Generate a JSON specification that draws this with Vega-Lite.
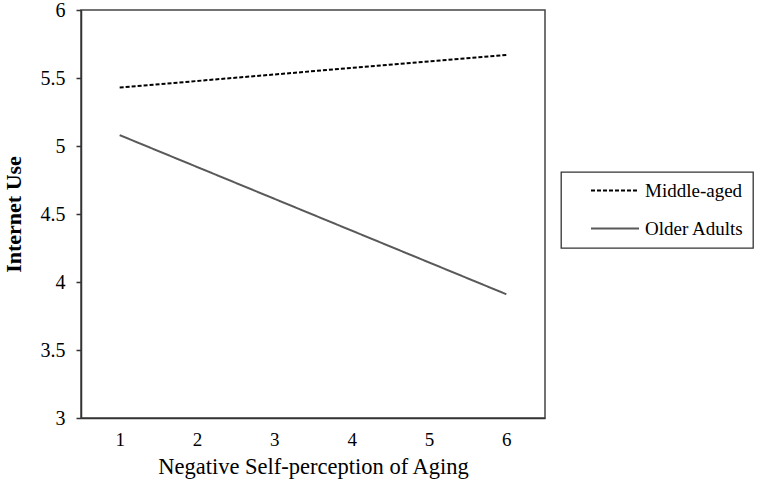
{
  "$schema": "https://vega.github.io/schema/vega-lite/v6.json",
  "autosize": "none",
  "padding": {"left": 81, "top": 10, "right": 227, "bottom": 66},
  "width": 464,
  "height": 408,
  "background": "white",
  "config": {
    "font": "Times New Roman, Liberation Serif, serif",
    "view": {"stroke": "#444", "strokeWidth": 1.5}
  },
  "data": {
    "values": [
      {"x": 1, "y": 5.43, "group": "Middle-aged"},
      {"x": 6, "y": 5.67, "group": "Middle-aged"},
      {"x": 1, "y": 5.08, "group": "Older Adults"},
      {"x": 6, "y": 3.91, "group": "Older Adults"}
    ]
  },
  "mark": {"type": "line", "strokeWidth": 2},
  "encoding": {
    "x": {
      "field": "x", "type": "quantitative",
      "scale": {"domain": [0.5, 6.5], "nice": false, "zero": false},
      "axis": {
        "title": "Negative Self-perception of Aging",
        "values": [1, 2, 3, 4, 5, 6], "format": "~g",
        "grid": false, "ticks": false, "domainColor": "#333", "domainWidth": 1.5,
        "labelFontSize": 19, "labelColor": "black", "labelPadding": 12,
        "titleFontSize": 22.5, "titleFontWeight": "normal", "titleColor": "black", "titlePadding": 6
      }
    },
    "y": {
      "field": "y", "type": "quantitative",
      "scale": {"domain": [3, 6], "nice": false, "zero": false},
      "axis": {
        "title": "Internet Use",
        "values": [3, 3.5, 4, 4.5, 5, 5.5, 6], "format": "~g",
        "grid": false, "tickSize": 5, "tickColor": "#333", "tickWidth": 1.5,
        "domainColor": "#333", "domainWidth": 1.5,
        "labelFontSize": 20, "labelColor": "black", "labelPadding": 11,
        "titleFontSize": 22, "titleFontWeight": "bold", "titleColor": "black", "titlePadding": 15
      }
    },
    "color": {
      "field": "group", "type": "nominal",
      "scale": {"domain": ["Middle-aged", "Older Adults"], "range": ["#000000", "#595959"]},
      "legend": {
        "title": null, "orient": "none", "legendX": 480, "legendY": 162,
        "symbolType": "stroke", "symbolSize": 2304, "symbolStrokeWidth": 2,
        "symbolOffset": 20, "clipHeight": 19,
        "labelFontSize": 19, "labelColor": "black", "labelOffset": 5,
        "rowPadding": 18, "padding": 9,
        "strokeColor": "#333",
        "encode": {"legend": {"update": {"strokeWidth": {"value": 1.3}}}}
      }
    },
    "strokeDash": {
      "field": "group", "type": "nominal",
      "scale": {"domain": ["Middle-aged", "Older Adults"], "range": [[4, 2], [1, 0]]},
      "legend": null
    }
  }
}
